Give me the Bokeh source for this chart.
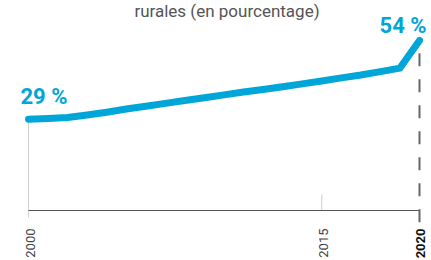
import math
from bokeh.plotting import figure
from bokeh.models import Range1d, ColumnDataSource, Label
from bokeh.core.properties import value
from bokeh.embed import file_html
from bokeh.resources import INLINE

# ---- data ----
years = [2000, 2001, 2002, 2003, 2004, 2005, 2006, 2007, 2008, 2009, 2010,
         2011, 2012, 2013, 2014, 2015, 2016, 2017, 2018, 2019, 2020]
share = [29.0, 29.2, 29.5, 30.3, 31.2, 32.2, 33.1, 34.0, 34.9, 35.8, 36.7,
         37.6, 38.4, 39.3, 40.2, 41.1, 42.1, 43.0, 44.1, 45.2, 54.0]
tick_years = [2000, 2015, 2020]
tick_labels = ["2000", "2015", "2020"]
first_label = "29 %"
last_label = "54 %"
title_text = "rurales (en pourcentage)"

BLUE = "#00A6D8"

p = figure(width=431, height=260, output_backend="svg", toolbar_location=None,
           x_range=Range1d(1998.568, 2020.614), y_range=Range1d(-15.87, 66.67),
           min_border=0, outline_line_color=None)
p.axis.visible = False
p.grid.visible = False
p.background_fill_color = "white"
p.border_fill_color = "white"

# light guide lines
p.segment(x0=[tick_years[0]], y0=[-2.2], x1=[tick_years[0]], y1=[share[0]],
          line_color="#cfcfcf", line_width=1)
p.segment(x0=[tick_years[1]], y0=[0], x1=[tick_years[1]], y1=[5.1],
          line_color="#cfcfcf", line_width=1)

# baseline
p.segment(x0=[tick_years[0]], y0=[0], x1=[tick_years[2]], y1=[0],
          line_color="#555555", line_width=1)

# dashed 2020 marker
p.segment(x0=[tick_years[2]], y0=[-3.7], x1=[tick_years[2]], y1=[share[-1] - 2.2],
          line_color="#666666", line_width=2, line_dash="13 13")

# main line
p.line(years, share, line_color=BLUE, line_width=7, line_cap="round", line_join="miter")

# value labels
p.text(x=[years[0]], y=[share[0]], text=[first_label], text_font=value("Roboto"),
       text_font_style="bold", text_font_size="22px", text_color=BLUE,
       text_align="left", text_baseline="alphabetic", x_offset=-8, y_offset=-23)
p.text(x=[years[-1]], y=[share[-1]], text=[last_label], text_font=value("Roboto"),
       text_font_style="bold", text_font_size="22px", text_color=BLUE,
       text_align="right", text_baseline="alphabetic", x_offset=7, y_offset=-15)

# tick labels (rotated)
src = ColumnDataSource(dict(x=tick_years[:2], y=[0, 0], t=tick_labels[:2]))
p.text(x="x", y="y", text="t", source=src, angle=math.pi / 2,
       text_font=value("Roboto"), text_font_size="13px", text_color="#444444",
       text_align="right", text_baseline="middle", y_offset=18, x_offset=2)
p.text(x=[tick_years[2]], y=[0], text=[tick_labels[2]], angle=math.pi / 2,
       text_font=value("Roboto"), text_font_style="bold", text_font_size="13px",
       text_color="#111111", text_align="right", text_baseline="middle",
       y_offset=18, x_offset=1)

# title
p.add_layout(Label(x=226.5, y=250, x_units="screen", y_units="screen",
                   text=title_text, text_font="Roboto", text_font_size="17px",
                   text_color="#555555", text_align="center",
                   text_baseline="alphabetic"))

open("out.html", "w").write(file_html(p, INLINE))
